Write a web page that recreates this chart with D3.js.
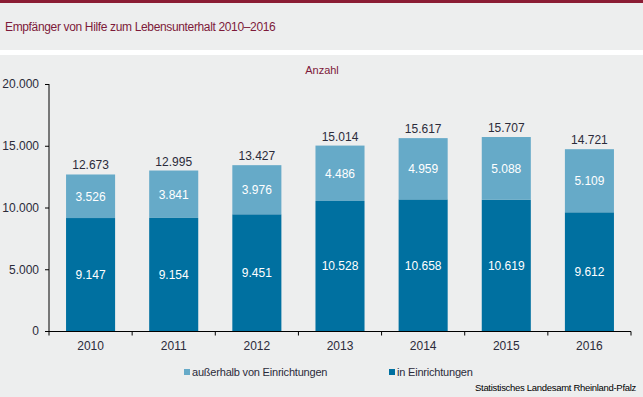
<!DOCTYPE html>
<html lang="de">
<head>
<meta charset="utf-8">
<title>Empfänger von Hilfe zum Lebensunterhalt</title>
<script src="https://cdn.jsdelivr.net/npm/d3@7"></script>
<style>
  body { margin: 0; background: #edeeee; }
  svg { display: block; font-family: "Liberation Sans", Arial, sans-serif; }
</style>
</head>
<body>
<svg id="chart"></svg>
<script>
// data
const years = ["2010", "2011", "2012", "2013", "2014", "2015", "2016"];
const inEinrichtungen = [9147, 9154, 9451, 10528, 10658, 10619, 9612];
const ausserhalb = [3526, 3841, 3976, 4486, 4959, 5088, 5109];
const totals = [12673, 12995, 13427, 15014, 15617, 15707, 14721];
const yTicks = [0, 5000, 10000, 15000, 20000];
const seriesNames = ["außerhalb von Einrichtungen", "in Einrichtungen"];

const width = 643, height = 397;
const colDark = "#0070a0", colLight = "#66aac8";
const fmt = d3.formatLocale({decimal: ",", thousands: ".", grouping: [3], currency: ["", "€"]}).format(",d");

const svg = d3.select("#chart").attr("width", width).attr("height", height);

// header
svg.append("rect").attr("x", 0).attr("y", 0).attr("width", width).attr("height", height).attr("fill", "#edeeee");
svg.append("rect").attr("x", 0).attr("y", 0).attr("width", width).attr("height", 3).attr("fill", "#8b1c34");
svg.append("rect").attr("x", 0).attr("y", 50).attr("width", width).attr("height", 5).attr("fill", "#ffffff");
svg.append("text").attr("x", 5).attr("y", 31)
  .attr("fill", "#7d1a3a").style("font-size", "12px").style("letter-spacing", "-0.35px")
  .text("Empfänger von Hilfe zum Lebensunterhalt 2010–2016");

svg.append("text").attr("x", 322).attr("y", 74).attr("text-anchor", "middle")
  .attr("fill", "#7d1a3a").style("font-size", "11px").text("Anzahl");

const x = d3.scaleBand().domain(years).range([49, 631]).paddingInner(0.41).paddingOuter(0.205);
const y = d3.scaleLinear().domain([0, 20000]).range([331, 84]);

const stackData = years.map((yr, i) => ({year: yr, inn: inEinrichtungen[i], aus: ausserhalb[i], total: totals[i]}));
const stack = d3.stack().keys(["inn", "aus"])(stackData);
const colors = {inn: colDark, aus: colLight};

const layers = svg.append("g").selectAll("g").data(stack).join("g")
  .attr("fill", d => colors[d.key]);

layers.selectAll("rect").data(d => d).join("rect")
  .attr("x", d => x(d.data.year))
  .attr("width", x.bandwidth())
  .attr("y", d => y(d[1]))
  .attr("height", d => y(d[0]) - y(d[1]));

layers.selectAll("text").data(d => d.map(v => ({v, key: d.key}))).join("text")
  .attr("x", d => x(d.v.data.year) + x.bandwidth() / 2)
  .attr("y", d => (y(d.v[0]) + y(d.v[1])) / 2 + 4.5)
  .attr("text-anchor", "middle")
  .attr("fill", "#ffffff")
  .style("font-size", "12px")
  .text(d => fmt(d.v.data[d.key]));

// totals
svg.append("g").selectAll("text").data(stackData).join("text")
  .attr("x", d => x(d.year) + x.bandwidth() / 2)
  .attr("y", d => y(d.total) - 5)
  .attr("text-anchor", "middle")
  .attr("fill", "#2b2b3a")
  .style("font-size", "12px")
  .text(d => fmt(d.total));

// axes
const yAxis = svg.append("g").attr("transform", "translate(49,0)")
  .call(d3.axisLeft(y).tickValues(yTicks).tickSize(4).tickPadding(6).tickFormat(fmt));
yAxis.selectAll("text").style("font-size", "12px").attr("fill", "#2b2b3a");
yAxis.select(".domain").attr("d", "M0,84V331.5");

const xAxis = svg.append("g").attr("transform", "translate(0,331.5)")
  .call(d3.axisBottom(x).tickSize(0).tickPadding(10));
xAxis.selectAll("text").style("font-size", "12px").attr("fill", "#2b2b3a");
xAxis.select(".domain").attr("d", "M49,0H631");
const step = x.step();
xAxis.selectAll("line.sep").data(d3.range(years.length + 1)).join("line")
  .attr("class", "sep")
  .attr("x1", i => 49 + i * step).attr("x2", i => 49 + i * step)
  .attr("y1", 0).attr("y2", 4).attr("stroke", "#000");
svg.selectAll(".domain, .tick line").attr("stroke", "#000");

// legend
const legendX = [184, 389];
const legend = svg.append("g").selectAll("g").data(seriesNames).join("g")
  .attr("transform", (d, i) => `translate(${legendX[i]},369)`);
legend.append("rect").attr("width", 6).attr("height", 6)
  .attr("fill", (d, i) => i === 0 ? colLight : colDark);
legend.append("text").attr("x", 8).attr("y", 7)
  .attr("fill", "#2b2b3a").style("font-size", "11px").style("letter-spacing", "-0.2px").text(d => d);

svg.append("text").attr("x", 636).attr("y", 391).attr("text-anchor", "end")
  .attr("fill", "#000").style("font-size", "9.5px").style("letter-spacing", "-0.3px")
  .text("Statistisches Landesamt Rheinland-Pfalz");
</script>
</body>
</html>
